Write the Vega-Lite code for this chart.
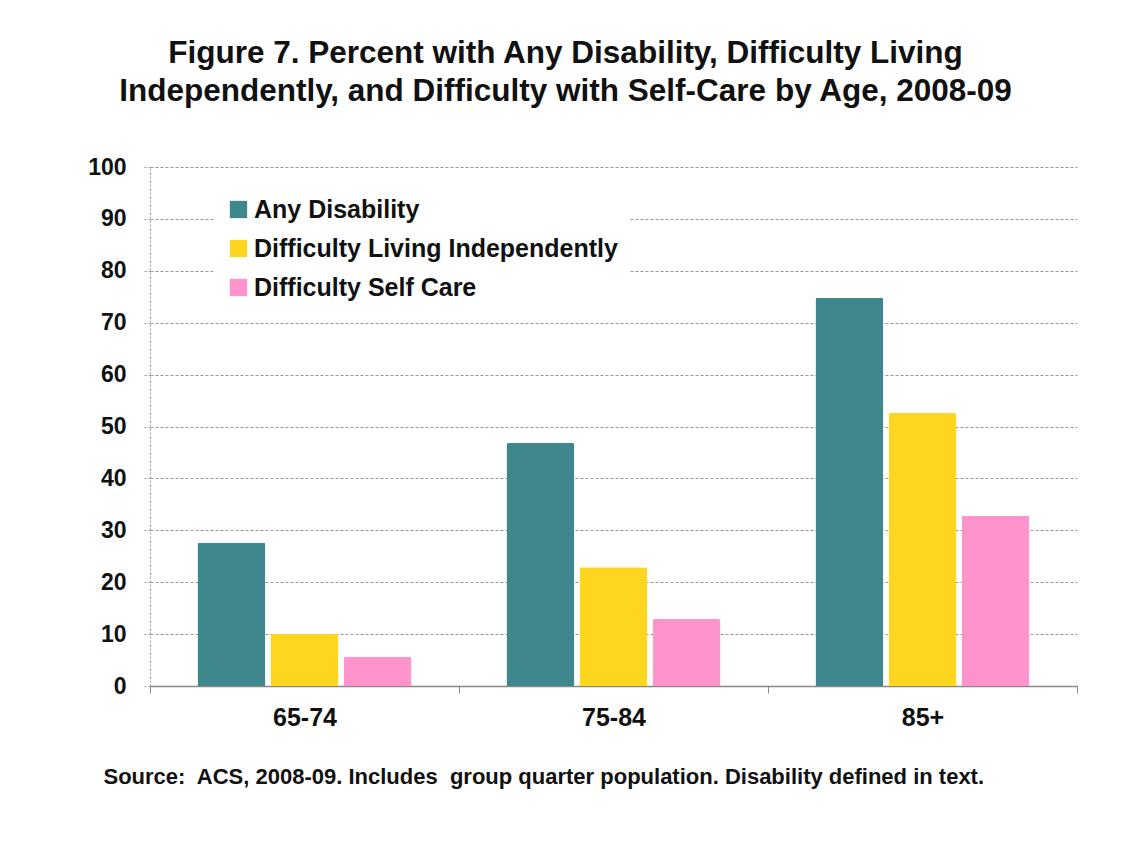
{
  "$schema": "https://vega.github.io/schema/vega-lite/v6.json",
  "width": 927,
  "height": 519,
  "autosize": {"type": "none"},
  "padding": {"left": 150, "top": 167, "right": 54, "bottom": 168},
  "background": "white",
  "title": {
    "text": ["Figure 7. Percent with Any Disability, Difficulty Living", "Independently, and Difficulty with Self-Care by Age, 2008-09"],
    "anchor": "middle",
    "dx": -48,
    "offset": 49,
    "font": "Liberation Sans",
    "fontSize": 31.5,
    "fontWeight": "bold",
    "lineHeight": 38,
    "color": "#111111"
  },
  "data": {
    "values": [
      {"age": "65-74", "measure": "Any Disability", "pct": 27.6},
      {"age": "65-74", "measure": "Difficulty Living Independently", "pct": 10.0},
      {"age": "65-74", "measure": "Difficulty Self Care", "pct": 5.6},
      {"age": "75-84", "measure": "Any Disability", "pct": 46.8},
      {"age": "75-84", "measure": "Difficulty Living Independently", "pct": 22.9},
      {"age": "75-84", "measure": "Difficulty Self Care", "pct": 12.9},
      {"age": "85+", "measure": "Any Disability", "pct": 74.8},
      {"age": "85+", "measure": "Difficulty Living Independently", "pct": 52.6},
      {"age": "85+", "measure": "Difficulty Self Care", "pct": 32.8}
    ]
  },
  "mark": {"type": "bar", "cornerRadiusTopLeft": 2, "cornerRadiusTopRight": 2},
  "encoding": {
    "x": {
      "field": "age",
      "type": "nominal",
      "sort": ["65-74", "75-84", "85+"],
      "scale": {"paddingInner": 0, "paddingOuter": 0},
      "axis": {
        "title": "Source:\u00a0 ACS, 2008-09. Includes\u00a0 group quarter population. Disability defined in text.",
        "titleAnchor": "start",
        "titleAlign": "left",
        "titleBaseline": "alphabetic",
        "titleX": -47,
        "titleY": 97,
        "titleFont": "Liberation Sans",
        "titleFontSize": 22,
        "titleFontWeight": "bold",
        "titleColor": "#111111",
        "labelAngle": 0,
        "labelFont": "Liberation Sans",
        "labelFontSize": 25,
        "labelFontWeight": "bold",
        "labelColor": "#111111",
        "labelPadding": 12,
        "tickBand": "extent",
        "tickSize": 7,
        "tickColor": "#888888",
        "domainColor": "#888888",
        "domainWidth": 1.5,
        "grid": false
      }
    },
    "xOffset": {
      "field": "measure",
      "type": "nominal",
      "sort": ["Any Disability", "Difficulty Living Independently", "Difficulty Self Care"],
      "scale": {"paddingInner": 0.07, "paddingOuter": 0.65}
    },
    "y": {
      "field": "pct",
      "type": "quantitative",
      "scale": {"domain": [0, 100], "nice": false},
      "axis": {
        "title": null,
        "values": [0, 10, 20, 30, 40, 50, 60, 70, 80, 90, 100],
        "labelFont": "Liberation Sans",
        "labelFontSize": 23,
        "labelFontWeight": "bold",
        "labelColor": "#111111",
        "labelPadding": 16,
        "tickSize": 8,
        "tickColor": "#999999",
        "tickDash": [2, 2],
        "domainColor": "#999999",
        "domainDash": [2, 2],
        "gridColor": "#999999",
        "gridDash": [3, 2],
        "gridWidth": 1
      }
    },
    "color": {
      "field": "measure",
      "type": "nominal",
      "sort": ["Any Disability", "Difficulty Living Independently", "Difficulty Self Care"],
      "scale": {
        "domain": ["Any Disability", "Difficulty Living Independently", "Difficulty Self Care"],
        "range": ["#3E878D", "#FFD61F", "#FF93CC"]
      },
      "legend": {
        "title": null,
        "orient": "none",
        "legendX": 64,
        "legendY": 18,
        "padding": 12,
        "fillColor": "white",
        "symbolType": "square",
        "symbolSize": 300,
        "symbolStrokeWidth": 0,
        "symbolOpacity": 1,
        "labelFont": "Liberation Sans",
        "labelFontSize": 25,
        "labelFontWeight": "bold",
        "labelColor": "#111111",
        "labelOffset": 3,
        "labelLimit": 600,
        "rowPadding": 13
      }
    }
  },
  "config": {
    "view": {"stroke": null}
  }
}
